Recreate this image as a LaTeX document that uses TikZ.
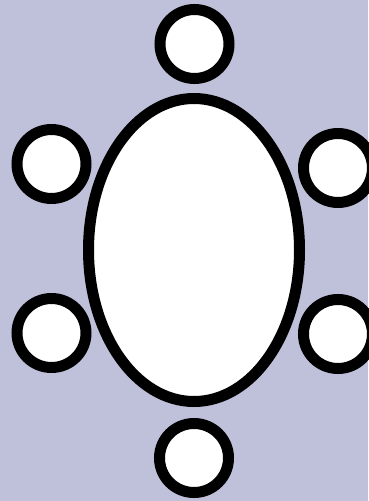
\documentclass[tikz,border=0pt]{standalone}
\usetikzlibrary{shapes.geometric}
\definecolor{bgcol}{RGB}{191,192,217}
\begin{document}
\begin{tikzpicture}[x=1pt,y=-1pt,
  seat/.style={circle,draw=black,fill=white,line width=11pt,minimum size=69pt,inner sep=0pt},
  tablebox/.style={ellipse,draw=black,fill=white,line width=11pt,minimum width=211pt,minimum height=303pt,inner sep=0pt}]
  \fill[bgcol] (0,0) rectangle (368,501);
  \useasboundingbox (0,0) rectangle (368,501);
  \node[tablebox] (table) at (194,250) {};
  \node[seat] (top) at (194.5,44) {};
  \node[seat] (bottom) at (194,458) {};
  \node[seat] (lt) at (51.5,164) {};
  \node[seat] (lb) at (51.5,333) {};
  \node[seat] (rt) at (338,168) {};
  \node[seat] (rb) at (338,334) {};
\end{tikzpicture}
\end{document}
